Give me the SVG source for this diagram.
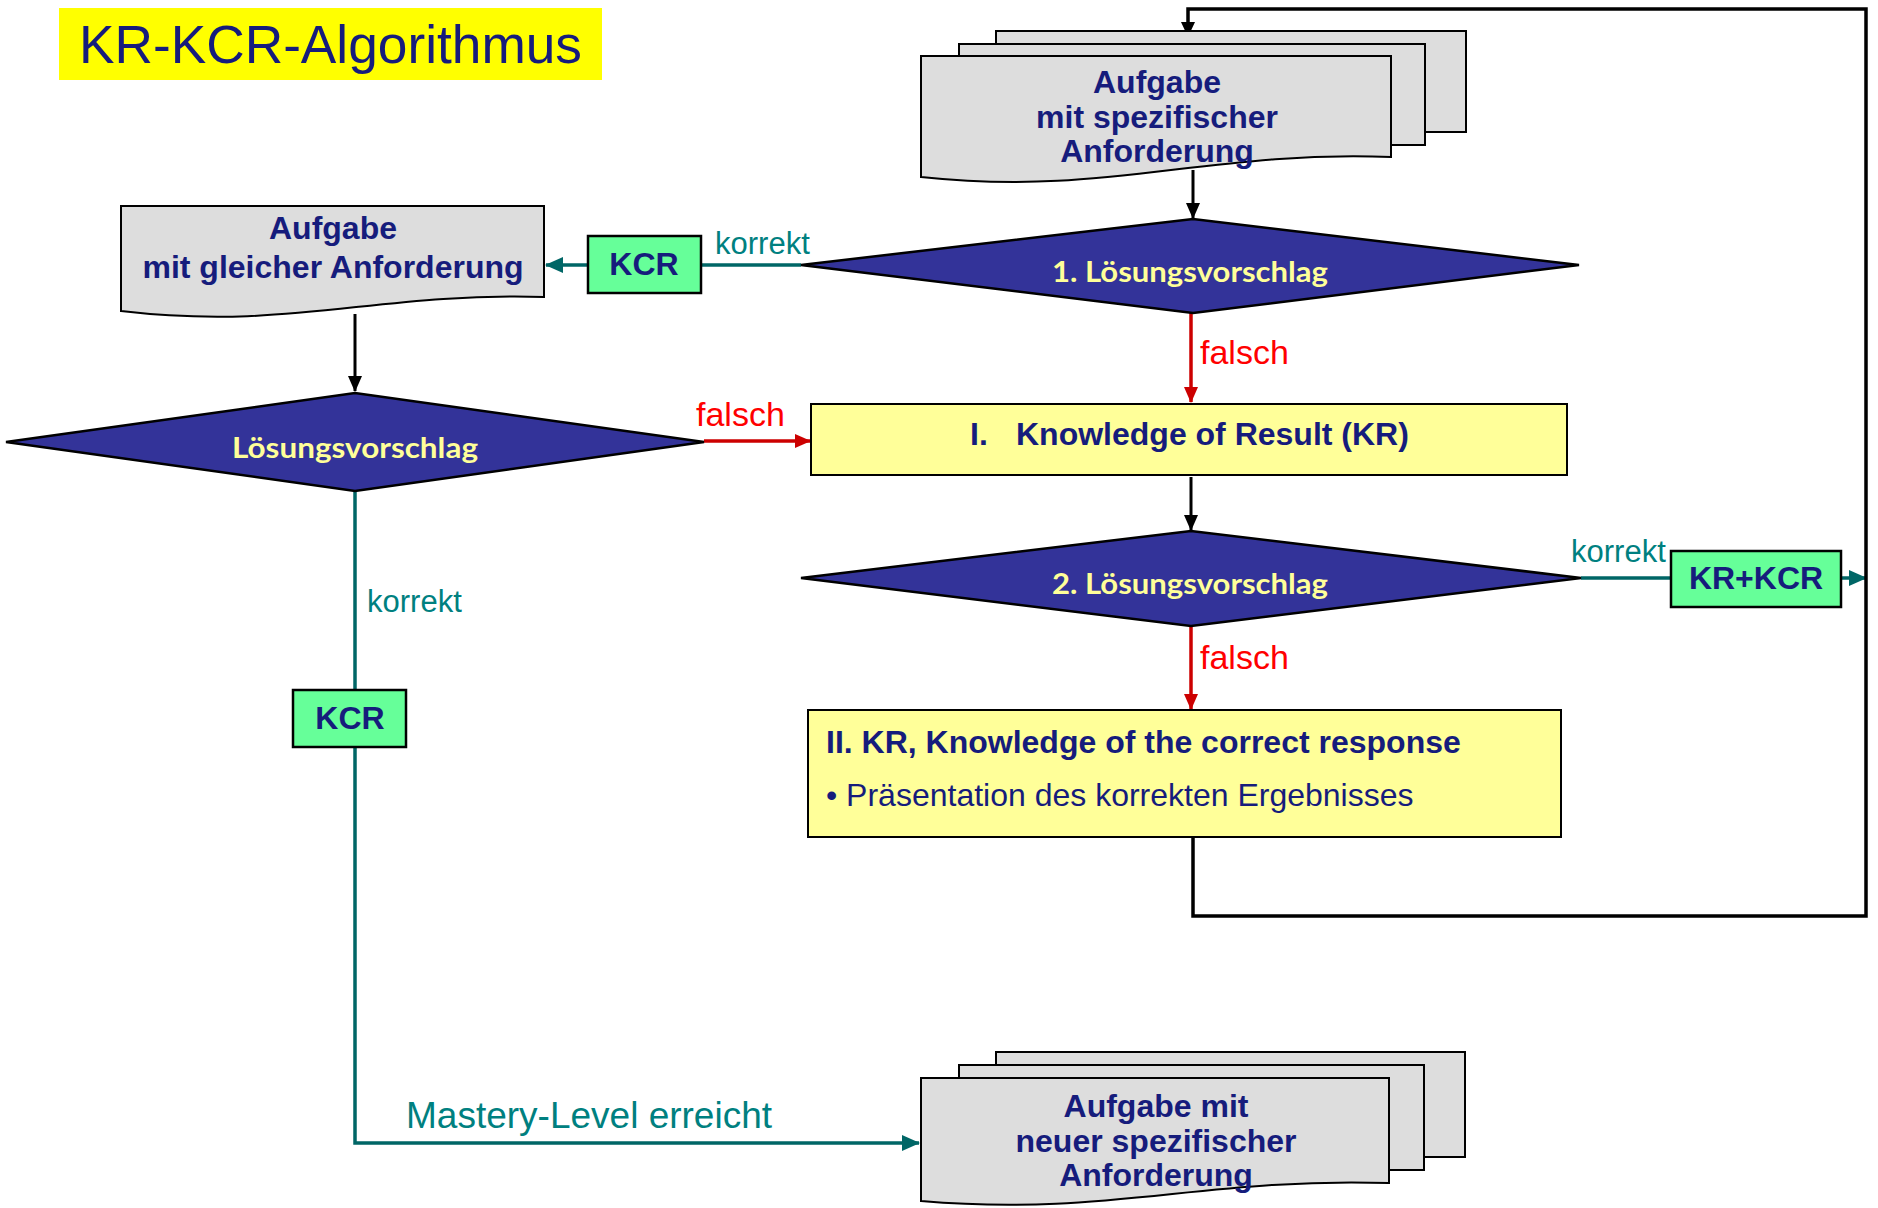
<svg xmlns="http://www.w3.org/2000/svg" width="1878" height="1208" viewBox="0 0 1878 1208">
<style>
.doc{fill:#dddddd;stroke:#000;stroke-width:2}
.grn{fill:#66ff99;stroke:#000;stroke-width:2.5}
.yel{fill:#ffff99;stroke:#000;stroke-width:2}
.dia{fill:#333399;stroke:#000;stroke-width:2.5}
.bt{font-family:"Liberation Sans",Arial,sans-serif;font-weight:bold;font-size:32px;fill:#161c7c;text-anchor:middle}
.rt{font-family:"Liberation Sans",Arial,sans-serif;font-size:32px;fill:#161c7c}
.dt{font-family:Lato,"Open Sans",sans-serif;font-weight:bold;font-size:29px;fill:#ffff99;text-anchor:middle}
.kl{font-family:"Liberation Sans",Arial,sans-serif;font-size:31px;fill:#008080}
.fl{font-family:"Liberation Sans",Arial,sans-serif;font-size:34px;fill:#ff0000}
.bk{fill:none;stroke:#000;stroke-width:3}
.lp{fill:none;stroke:#000;stroke-width:3.5}
.tl{fill:none;stroke:#006666;stroke-width:3.5}
.rd{fill:none;stroke:#cc0000;stroke-width:3.5}
</style>
<defs>
<marker id="ab" markerWidth="16" markerHeight="14" refX="15" refY="7" orient="auto" markerUnits="userSpaceOnUse" viewBox="0 0 16 14"><path d="M0,0 L16,7 L0,14 Z" fill="#000"/></marker>
<marker id="at" markerWidth="18" markerHeight="16" refX="17" refY="8" orient="auto" markerUnits="userSpaceOnUse" viewBox="0 0 18 16"><path d="M0,0 L18,8 L0,16 Z" fill="#006666"/></marker>
<marker id="ar" markerWidth="16" markerHeight="14" refX="15" refY="7" orient="auto" markerUnits="userSpaceOnUse" viewBox="0 0 16 14"><path d="M0,0 L16,7 L0,14 Z" fill="#cc0000"/></marker>
</defs>

<g id="title">
<rect x="59" y="8" width="543" height="72" fill="#ffff00"/>
<text x="79" y="63" font-family="Liberation Sans,Arial,sans-serif" font-size="53" fill="#161c7c" textLength="503" lengthAdjust="spacingAndGlyphs">KR-KCR-Algorithmus</text>
</g>

<g id="connectors">
<line class="bk" x1="1193" y1="170" x2="1193" y2="218" marker-end="url(#ab)"/>
<line class="tl" x1="801" y1="265" x2="701" y2="265"/>
<line class="tl" x1="588" y1="265" x2="546" y2="265" marker-end="url(#at)"/>
<text class="kl" x="715" y="254">korrekt</text>
<line class="rd" x1="1191" y1="313" x2="1191" y2="402" marker-end="url(#ar)"/>
<text class="fl" x="1200" y="364">falsch</text>
<line class="bk" x1="355" y1="314" x2="355" y2="391" marker-end="url(#ab)"/>
<line class="rd" x1="704" y1="441" x2="810" y2="441" marker-end="url(#ar)"/>
<text class="fl" x="696" y="426">falsch</text>
<line class="bk" x1="1191" y1="477" x2="1191" y2="530" marker-end="url(#ab)"/>
<line class="tl" x1="1581" y1="578" x2="1671" y2="578"/>
<text class="kl" x="1571" y="562">korrekt</text>
<line class="tl" x1="1841" y1="578" x2="1866" y2="578" marker-end="url(#at)"/>
<line class="rd" x1="1191" y1="626" x2="1191" y2="709" marker-end="url(#ar)"/>
<text class="fl" x="1200" y="669">falsch</text>
<polyline class="lp" points="1193,837 1193,916 1866,916 1866,9 1188,9 1188,30"/>
<path d="M1181,22 L1195,22 L1188,37 Z" fill="#000"/>
<line class="tl" x1="355" y1="491" x2="355" y2="690"/>
<text class="kl" x="367" y="612">korrekt</text>
<polyline class="tl" points="355,747 355,1143 919,1143" marker-end="url(#at)"/>
<text x="406" y="1128" font-family="Liberation Sans,Arial,sans-serif" font-size="37" fill="#008080">Mastery-Level erreicht</text>
</g>

<g id="doc-top">
<rect class="doc" x="996" y="31" width="470" height="101"/>
<rect class="doc" x="959" y="44" width="466" height="101"/>
<path class="doc" d="M921,56 H1391 V157 C1203,150 1109,197 921,177 Z"/>
<text class="bt" x="1157" y="93">Aufgabe</text>
<text class="bt" x="1157" y="128">mit spezifischer</text>
<text class="bt" x="1157" y="162">Anforderung</text>
</g>

<g id="doc-left">
<path class="doc" d="M121,206 H544 V297 C375,292 290,331 121,311 Z"/>
<text class="bt" x="333" y="239">Aufgabe</text>
<text class="bt" x="333" y="278">mit gleicher Anforderung</text>
</g>

<g id="kcr-top">
<rect class="grn" x="588" y="236" width="113" height="57"/>
<text class="bt" x="644" y="275" font-size="28">KCR</text>
</g>

<g id="loesung1">
<polygon class="dia" points="801,265 1193,219 1579,265 1193,313"/>
<text class="dt" x="1190" y="282" textLength="276" lengthAdjust="spacingAndGlyphs">1. Lösungsvorschlag</text>
</g>

<g id="loesung-left">
<polygon class="dia" points="6,442 355,393 704,442 355,491"/>
<text class="dt" x="355" y="458" textLength="246" lengthAdjust="spacingAndGlyphs">Lösungsvorschlag</text>
</g>

<g id="kr">
<rect class="yel" x="811" y="404" width="756" height="71"/>
<text x="970" y="445" font-family="Liberation Sans,Arial,sans-serif" font-weight="bold" font-size="32" fill="#161c7c">I.</text>
<text x="1016" y="445" font-family="Liberation Sans,Arial,sans-serif" font-weight="bold" font-size="32" fill="#161c7c">Knowledge of Result (KR)</text>
</g>

<g id="loesung2">
<polygon class="dia" points="801,578 1191,531 1581,578 1191,626"/>
<text class="dt" x="1190" y="594" textLength="276" lengthAdjust="spacingAndGlyphs">2. Lösungsvorschlag</text>
</g>

<g id="kr-kcr">
<rect class="grn" x="1671" y="551" width="170" height="56"/>
<text class="bt" x="1756" y="589" font-size="28">KR+KCR</text>
</g>

<g id="kcr-response">
<rect class="yel" x="808" y="710" width="753" height="127"/>
<text x="826" y="753" font-family="Liberation Sans,Arial,sans-serif" font-weight="bold" font-size="32" fill="#161c7c">II. KR, Knowledge of the correct response</text>
<text class="rt" x="826" y="806">• Präsentation des korrekten Ergebnisses</text>
</g>

<g id="kcr-left">
<rect class="grn" x="293" y="690" width="113" height="57"/>
<text class="bt" x="350" y="729" font-size="28">KCR</text>
</g>

<g id="doc-bottom">
<rect class="doc" x="996" y="1052" width="469" height="105"/>
<rect class="doc" x="959" y="1065" width="465" height="105"/>
<path class="doc" d="M921,1078 H1389 V1183 C1202,1177 1108,1217 921,1201 Z"/>
<text class="bt" x="1156" y="1117">Aufgabe mit</text>
<text class="bt" x="1156" y="1152">neuer spezifischer</text>
<text class="bt" x="1156" y="1186">Anforderung</text>
</g>
</svg>
